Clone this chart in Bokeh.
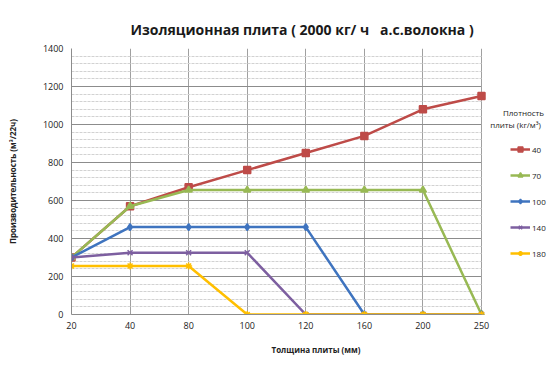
from bokeh.plotting import figure
from bokeh.models import Range1d, FixedTicker, Legend, LegendItem, Label, Grid
from bokeh.embed import file_html
from bokeh.resources import INLINE

categories = ["20", "40", "80", "100", "120", "160", "200", "250"]
series_names = ["40", "70", "100", "140", "180"]
s40 = [300, 570, 670, 760, 850, 940, 1080, 1150]
s70 = [300, 570, 655, 655, 655, 655, 655, 0]
s100 = [300, 460, 460, 460, 460, 0, 0, 0]
s140 = [300, 325, 325, 325, 0, 0, 0, 0]
s180 = [255, 255, 255, 0, 0, 0, 0, 0]
y_ticks = [0, 200, 400, 600, 800, 1000, 1200, 1400]
y_minor = list(range(0, 1401, 40))

colors = ["#BE4B48", "#98B954", "#3F74BF", "#7D5FA0", "#FFBF00"]
markers = ["square", "triangle", "diamond", "x", "asterisk"]
FONT = "Open Sans"

W, H = 560, 366
LEFT, TOP, BOTTOM = 71, 48, 52
PLOT_W = 410  # width of the drawn plot area (x=20 .. x=250)
frame_w = W - LEFT
n = len(categories)
x_end = (n - 1) * frame_w / PLOT_W

xs = list(range(n))

p = figure(width=W, height=H, output_backend="svg", toolbar_location=None,
           x_range=Range1d(0, x_end), y_range=Range1d(0, 1400),
           min_border_left=LEFT, min_border_right=0, min_border_top=TOP,
           min_border_bottom=BOTTOM)
p.outline_line_color = None
p.background_fill_color = "white"

p.title.text = "Изоляционная плита ( 2000 кг/ ч \u00a0 а.с.волокна )"
p.title.text_font = FONT
p.title.text_font_size = "14px"
p.title.text_font_style = "bold"
p.title.align = "left"
p.title.offset = 59
p.title.standoff = 20
p.title.text_color = "#1a1a1a"

# axes
p.xaxis.ticker = FixedTicker(ticks=xs)
p.xaxis.major_label_overrides = {i: c for i, c in enumerate(categories)}
p.xaxis.bounds = (0, n - 1)
p.yaxis.ticker = FixedTicker(ticks=y_ticks, minor_ticks=y_minor)
for ax in (p.xaxis[0], p.yaxis[0]):
    ax.major_tick_out = 0
    ax.major_tick_in = 0
    ax.minor_tick_out = 0
    ax.minor_tick_in = 0
    ax.axis_line_color = "#8C8C8C"
    ax.major_label_text_font = FONT
    ax.major_label_text_font_size = "9px"
    ax.major_label_text_color = "#222222"
    ax.axis_label_text_font = FONT
    ax.axis_label_text_font_size = "8px"
    ax.axis_label_text_font_style = "bold"
    ax.axis_label_text_color = "#222222"
p.yaxis.major_label_standoff = 8
p.yaxis.axis_label = "Производительность (м³/22ч)"
p.yaxis.axis_label_standoff = 22
p.xaxis.major_label_standoff = 7
p.xaxis.axis_label = "Толщина плиты (мм)"
p.xaxis.axis_label_standoff = 12

# grids
p.xgrid.grid_line_color = "#A0A0A0"
p.xgrid.grid_line_width = 1
if "cross_bounds" in Grid.properties():
    p.ygrid.cross_bounds = (0, n - 1)
    p.ygrid.grid_line_color = "#8C8C8C"
    p.ygrid.grid_line_width = 1
    p.ygrid.minor_grid_line_color = "#D2D2D2"
    p.ygrid.minor_grid_line_dash = "3 1"
    p.ygrid.minor_grid_line_width = 1
else:
    p.ygrid.grid_line_color = None
    minor_only = [v for v in y_minor if v not in y_ticks]
    p.segment(x0=[0] * len(minor_only), x1=[n - 1] * len(minor_only), y0=minor_only, y1=minor_only,
              line_color="#D2D2D2", line_width=1, line_dash="3 1", level="underlay")
    p.segment(x0=[0] * len(y_ticks), x1=[n - 1] * len(y_ticks), y0=y_ticks, y1=y_ticks,
              line_color="#8C8C8C", line_width=1, level="underlay")

items = []
for name, vals, col, mk in zip(series_names, [s40, s70, s100, s140, s180], colors, markers):
    r1 = p.line(xs, vals, line_color=col, line_width=2.5)
    r2 = p.scatter(xs, vals, marker=mk, size=7, fill_color=col, line_color=col, line_width=1.5)
    items.append(LegendItem(label=name, renderers=[r1, r2]))

legend = Legend(items=items, location=(439, 55))
legend.label_text_font = FONT
legend.label_text_font_size = "8px"
legend.label_text_color = "#222222"
legend.glyph_width = 20
legend.glyph_height = 12
legend.label_height = 12
legend.label_standoff = 2
legend.spacing = 14
legend.padding = 0
legend.margin = 0
legend.border_line_color = None
legend.background_fill_alpha = 0
p.add_layout(legend)

px_x = PLOT_W / (n - 1)
px_y = (H - TOP - BOTTOM) / 1400
for txt, cx, cy in [("Плотность", 523, 112), ("плиты (kг/м³)", 515, 124)]:
    p.add_layout(Label(x=(cx - LEFT) / px_x, y=(H - BOTTOM - cy) / px_y, text=txt,
                       text_font=FONT, text_font_size="8px", text_color="#222222",
                       text_align="center", text_baseline="middle"))

open("out.html", "w").write(file_html(p, INLINE))
